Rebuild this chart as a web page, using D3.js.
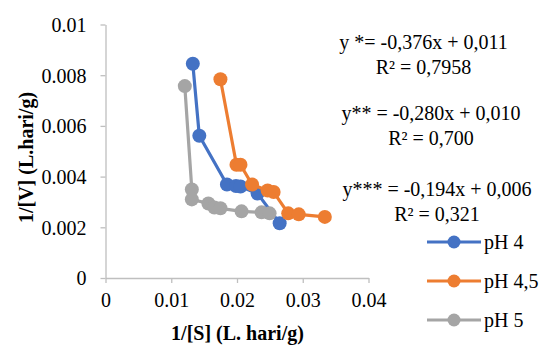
<!DOCTYPE html>
<html>
<head>
<meta charset="utf-8">
<script src="https://cdn.jsdelivr.net/npm/d3@7"></script>
<style>
  html, body { margin: 0; padding: 0; background: #fff; }
  svg { display: block; }
  text { font-family: "Liberation Serif", "Times New Roman", serif; fill: #000; }
</style>
</head>
<body>
<svg id="chart" width="545" height="345"></svg>
<script>
// ---- Data ----
const seriesNames = ["pH 4", "pH 4,5", "pH 5"];
const seriesColors = ["#4472C4", "#ED7D31", "#A5A5A5"];

const ph4X = [0.01328, 0.01427, 0.01847, 0.01985, 0.02053, 0.02313, 0.02649];
const ph4Y = [0.00845, 0.00561, 0.00369, 0.00363, 0.00361, 0.00333, 0.00216];

const ph45X = [0.01748, 0.01992, 0.02053, 0.02229, 0.02466, 0.02557, 0.02779, 0.02939, 0.03336];
const ph45Y = [0.00784, 0.00447, 0.00447, 0.00369, 0.00345, 0.00339, 0.00255, 0.00251, 0.00241];

const ph5X = [0.01206, 0.01313, 0.01313, 0.01565, 0.01656, 0.01748, 0.02069, 0.02374, 0.02496];
const ph5Y = [0.00757, 0.00349, 0.00310, 0.00294, 0.00278, 0.00275, 0.00263, 0.00259, 0.00255];

const xTicks = [0, 0.01, 0.02, 0.03, 0.04];
const xTickLabels = ["0", "0.01", "0.02", "0.03", "0.04"];
const yTicks = [0, 0.002, 0.004, 0.006, 0.008, 0.01];
const yTickLabels = ["0", "0.002", "0.004", "0.006", "0.008", "0.01"];

const equations = [
  ["y *= -0,376x + 0,011", "R² = 0,7958"],
  ["y** = -0,280x + 0,010", "R² = 0,700"],
  ["y*** = -0,194x + 0,006", "R² = 0,321"]
];

const xTitle = "1/[S] (L. hari/g)";
const yTitle = "1/[V] (L.hari/g)";

// ---- Chart ----
const svg = d3.select("#chart");
const x = d3.scaleLinear().domain([0, 0.04]).range([105.5, 368.5]);
const y = d3.scaleLinear().domain([0, 0.01]).range([278, 24.5]);
const axisColor = "#BFBFBF";

// x axis
const xAxis = d3.axisBottom(x).tickValues(xTicks).tickFormat((d, i) => xTickLabels[i]).tickSize(5).tickSizeOuter(0);
const gx = svg.append("g").attr("transform", `translate(0,${y(0)})`).call(xAxis);
gx.select(".domain").attr("stroke", axisColor).attr("stroke-width", 1.3);
gx.selectAll(".tick line").attr("stroke", axisColor).attr("stroke-width", 1.3);
gx.selectAll(".tick text").attr("font-size", 20).attr("font-family", "Liberation Serif").attr("y", 0).attr("dy", 0)
  .attr("transform", "translate(0,29)").attr("fill", "#000");

// y axis
const yAxis = d3.axisLeft(y).tickValues(yTicks).tickFormat((d, i) => yTickLabels[i]).tickSize(5).tickSizeOuter(0);
const gy = svg.append("g").attr("transform", `translate(${x(0)},0)`).call(yAxis);
gy.select(".domain").attr("stroke", axisColor).attr("stroke-width", 1.3);
gy.selectAll(".tick line").attr("stroke", axisColor).attr("stroke-width", 1.3);
gy.selectAll(".tick text").attr("font-size", 20).attr("font-family", "Liberation Serif").attr("x", -19).attr("dy", "0.34em").attr("fill", "#000");

// axis titles
svg.append("text").attr("x", 237.5).attr("y", 340).attr("text-anchor", "middle")
  .attr("font-size", 20).attr("font-weight", "bold").text(xTitle);
svg.append("text").attr("transform", "translate(33,157.5) rotate(-90)").attr("text-anchor", "middle")
  .attr("font-size", 20).attr("font-weight", "bold").text(yTitle);

// series
const seriesData = [
  ph4X.map((v, i) => [v, ph4Y[i]]),
  ph45X.map((v, i) => [v, ph45Y[i]]),
  ph5X.map((v, i) => [v, ph5Y[i]])
];
const line = d3.line().x(d => x(d[0])).y(d => y(d[1]));
seriesData.forEach((data, s) => {
  const g = svg.append("g");
  g.append("path").datum(data).attr("d", line).attr("fill", "none")
    .attr("stroke", seriesColors[s]).attr("stroke-width", 3.2).attr("stroke-linejoin", "round");
  g.selectAll("circle").data(data).enter().append("circle")
    .attr("cx", d => x(d[0])).attr("cy", d => y(d[1])).attr("r", 7)
    .attr("fill", seriesColors[s]);
});

// equations
const eqPos = [
  {cx: 423.5, y1: 49, y2: 74},
  {cx: 431, y1: 120, y2: 145},
  {cx: 437, y1: 196, y2: 221}
];
equations.forEach((eq, i) => {
  svg.append("text").attr("x", eqPos[i].cx).attr("y", eqPos[i].y1).attr("text-anchor", "middle").attr("font-size", 20).text(eq[0]);
  svg.append("text").attr("x", eqPos[i].cx).attr("y", eqPos[i].y2).attr("text-anchor", "middle").attr("font-size", 20).text(eq[1]);
});

// legend
const legY = [242, 281, 320];
seriesNames.forEach((name, i) => {
  const g = svg.append("g");
  g.append("line").attr("x1", 427).attr("x2", 481).attr("y1", legY[i]).attr("y2", legY[i])
    .attr("stroke", seriesColors[i]).attr("stroke-width", 3.2);
  g.append("circle").attr("cx", 454).attr("cy", legY[i]).attr("r", 6.5).attr("fill", seriesColors[i]);
  g.append("text").attr("x", 484).attr("y", legY[i]).attr("dy", "0.34em").attr("font-size", 20).text(name);
});
</script>
</body>
</html>
